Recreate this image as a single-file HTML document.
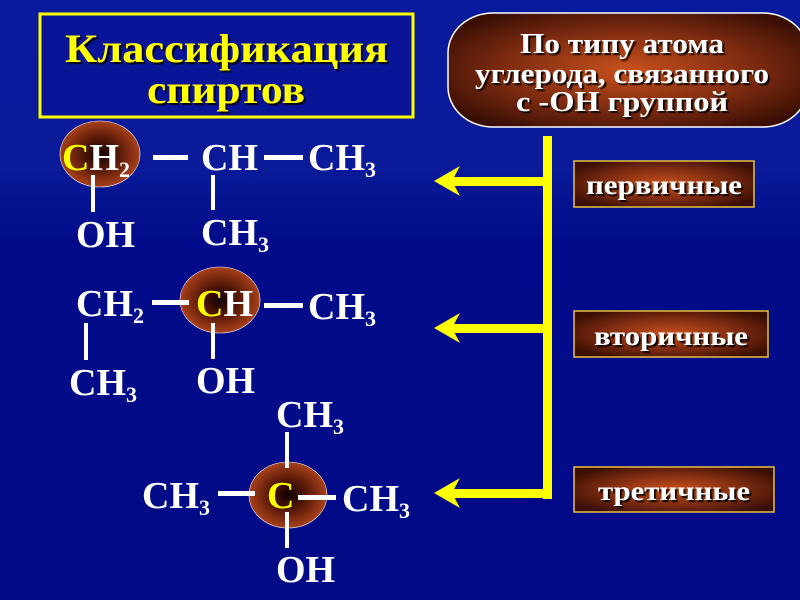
<!DOCTYPE html>
<html><head><meta charset="utf-8"><style>
html,body{margin:0;padding:0;width:800px;height:600px;overflow:hidden;background:#020c8a}
svg{display:block}
text{font-family:"Liberation Serif",serif;font-weight:bold}
</style></head><body>
<svg width="800" height="600" viewBox="0 0 800 600" xmlns="http://www.w3.org/2000/svg">
<defs>
<linearGradient id="bg" x1="0" y1="0" x2="0" y2="1">
<stop offset="0" stop-color="#0a1a9c"/><stop offset="0.28" stop-color="#0a1a98"/><stop offset="0.4" stop-color="#020c8a"/><stop offset="1" stop-color="#020b86"/>
</linearGradient>
<radialGradient id="br" cx="0.5" cy="0.5" r="0.6">
<stop offset="0" stop-color="#c8501c"/><stop offset="0.6" stop-color="#7a2a10"/><stop offset="1" stop-color="#3a0e04"/>
</radialGradient>
<radialGradient id="el" cx="0.5" cy="0.5" r="0.5">
<stop offset="0" stop-color="#100000"/><stop offset="0.5" stop-color="#5a1a08"/><stop offset="1" stop-color="#a8401a"/>
</radialGradient>
<filter id="sh"><feDropShadow dx="2" dy="2" stdDeviation="0.5" flood-color="#000" flood-opacity="0.9"/></filter>
</defs>
<rect width="800" height="600" fill="url(#bg)"/>
<rect x="40" y="14" width="373" height="103" fill="#0a1496" stroke="#ffff00" stroke-width="3"/>
<g fill="#ffff00" filter="url(#sh)" font-size="40">
<text x="65" y="62" textLength="323" lengthAdjust="spacingAndGlyphs">Классификация</text>
<text x="147" y="103" textLength="158" lengthAdjust="spacingAndGlyphs">спиртов</text>
</g>
<rect x="448" y="13" width="360" height="114" rx="45" ry="40" fill="url(#br)" stroke="#fff" stroke-width="1.5"/>
<g fill="#fff" filter="url(#sh)" font-size="28" text-anchor="middle">
<text x="622" y="53" textLength="204" lengthAdjust="spacingAndGlyphs">По типу атома</text>
<text x="622" y="83" textLength="294" lengthAdjust="spacingAndGlyphs">углерода, связанного</text>
<text x="622" y="111" textLength="212" lengthAdjust="spacingAndGlyphs">с  -ОН группой</text>
</g>
<g fill="#ffff00">
<rect x="543" y="136" width="9" height="363"/>
<rect x="452" y="177" width="96" height="9"/>
<rect x="452" y="324" width="96" height="9"/>
<rect x="452" y="489" width="96" height="9"/>
<path d="M434 181 L460 166 L452 181 L460 196Z"/>
<path d="M434 328 L460 313 L452 328 L460 343Z"/>
<path d="M434 493 L460 478 L452 493 L460 508Z"/>
</g>
<g stroke="#e8c040" stroke-width="1.5">
<rect x="574" y="161" width="180" height="46" fill="url(#br)"/>
<rect x="574" y="311" width="194" height="46" fill="url(#br)"/>
<rect x="574" y="467" width="200" height="45" fill="url(#br)"/>
</g>
<g fill="#fff" filter="url(#sh)" font-size="27" text-anchor="middle">
<text x="664" y="194" textLength="156" lengthAdjust="spacingAndGlyphs">первичные</text>
<text x="671" y="345" textLength="154" lengthAdjust="spacingAndGlyphs">вторичные</text>
<text x="674" y="500" textLength="152" lengthAdjust="spacingAndGlyphs">третичные</text>
</g>
<ellipse cx="100" cy="154" rx="40" ry="33" fill="url(#el)" stroke="#fff" stroke-width="0.6"/>
<ellipse cx="220" cy="300" rx="40" ry="33" fill="url(#el)" stroke="#fff" stroke-width="0.6"/>
<ellipse cx="288" cy="495" rx="39" ry="33" fill="url(#el)" stroke="#fff" stroke-width="0.6"/>
<g fill="#fff">
<rect x="153" y="155" width="35" height="5"/><rect x="264" y="155" width="39" height="5"/>
<rect x="91" y="175" width="4" height="37"/><rect x="211" y="175" width="4" height="35"/>
<rect x="152" y="300" width="37" height="5"/><rect x="264" y="303" width="39" height="5"/>
<rect x="84" y="323" width="4" height="37"/><rect x="211" y="323" width="4" height="36"/>
<rect x="285" y="432" width="4" height="36"/><rect x="218" y="491" width="37" height="5"/>
<rect x="298" y="495" width="38" height="5"/><rect x="285" y="512" width="4" height="36"/>
</g>
<g fill="#fff" font-size="38">
<text x="62" y="170"><tspan fill="#ffff00">C</tspan>H<tspan font-size="22" dy="7">2</tspan></text>
<text x="201" y="170">CH</text>
<text x="308" y="170">CH<tspan font-size="22" dy="7">3</tspan></text>
<text x="76" y="247">OH</text>
<text x="201" y="245">CH<tspan font-size="22" dy="7">3</tspan></text>
<text x="76" y="316">CH<tspan font-size="22" dy="7">2</tspan></text>
<text x="196" y="316"><tspan fill="#ffff00">C</tspan>H</text>
<text x="308" y="319">CH<tspan font-size="22" dy="7">3</tspan></text>
<text x="69" y="395">CH<tspan font-size="22" dy="7">3</tspan></text>
<text x="196" y="393">OH</text>
<text x="276" y="427">CH<tspan font-size="22" dy="7">3</tspan></text>
<text x="142" y="508">CH<tspan font-size="22" dy="7">3</tspan></text>
<text x="267" y="508" fill="#ffff00">C</text>
<text x="342" y="511">CH<tspan font-size="22" dy="7">3</tspan></text>
<text x="276" y="582">OH</text>
</g>
</svg>
</body></html>
